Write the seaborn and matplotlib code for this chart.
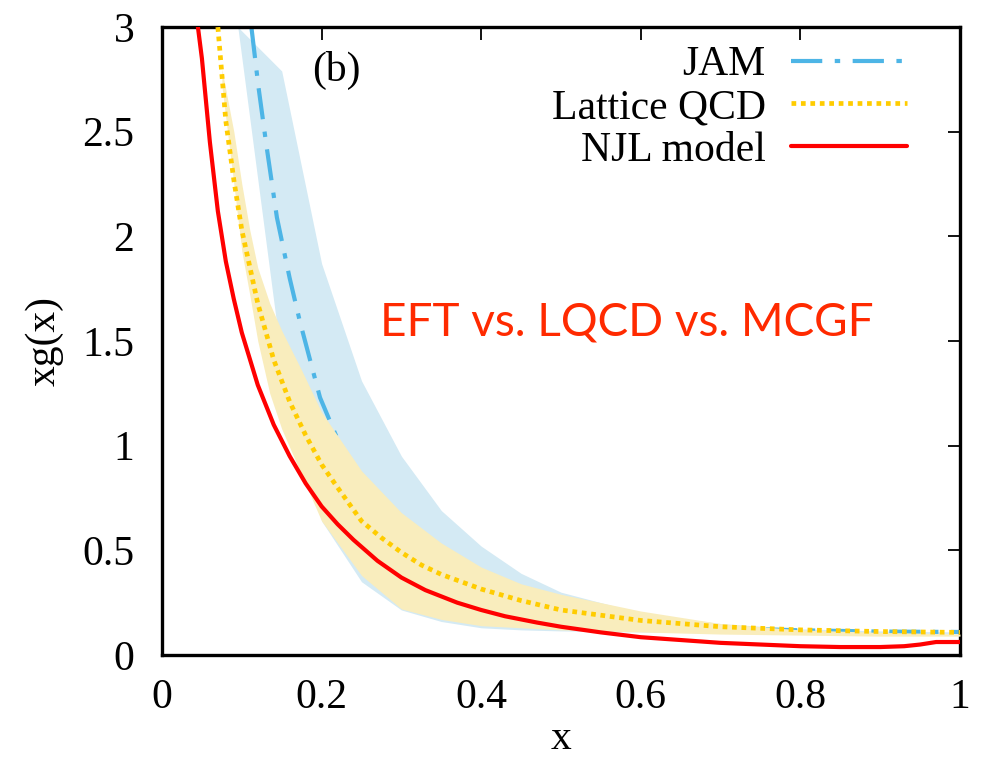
import numpy as np
import pandas as pd
import matplotlib
matplotlib.use("Agg")
import matplotlib.pyplot as plt
import seaborn as sns

# ---- data ----
# JAM uncertainty band
jam_band_x = [0.095, 0.15, 0.2, 0.25, 0.3, 0.35, 0.4, 0.45, 0.5, 0.6, 0.7, 0.8, 0.9, 1.0]
jam_band_hi = [3.0, 2.79, 1.87, 1.31, 0.95, 0.69, 0.52, 0.39, 0.30, 0.20, 0.15, 0.125, 0.115, 0.11]
jam_band_lo = [3.0, 1.40, 0.64, 0.35, 0.215, 0.16, 0.13, 0.12, 0.115, 0.11, 0.105, 0.10, 0.10, 0.10]

# JAM central curve
jam_x = [0.112, 0.121, 0.131, 0.144, 0.16, 0.173, 0.198, 0.219, 0.25, 0.3, 0.35, 0.4, 0.5, 0.6, 0.7, 0.8, 0.9, 1.0]
jam_y = [3.0, 2.71, 2.43, 2.09, 1.80, 1.59, 1.23, 1.04, 0.82, 0.56, 0.41, 0.31, 0.20, 0.15, 0.128, 0.118, 0.112, 0.11]

# Lattice QCD band
lat_band_x = [0.075, 0.09, 0.10, 0.11, 0.12, 0.135, 0.15, 0.175, 0.2, 0.25, 0.3, 0.35, 0.4, 0.45, 0.5, 0.6, 0.7, 0.8, 0.9, 1.0]
lat_band_hi = [2.80, 2.50, 2.25, 2.03, 1.85, 1.68, 1.55, 1.36, 1.16, 0.88, 0.68, 0.535, 0.42, 0.34, 0.29, 0.21, 0.15, 0.12, 0.108, 0.10]
lat_band_lo = [2.72, 2.25, 1.93, 1.72, 1.50, 1.25, 1.08, 0.86, 0.64, 0.38, 0.22, 0.17, 0.14, 0.13, 0.12, 0.11, 0.10, 0.095, 0.09, 0.09]

# Lattice QCD central curve
lat_x = [0.065, 0.07, 0.08, 0.09, 0.1, 0.12, 0.14, 0.16, 0.18, 0.2, 0.22, 0.25, 0.275, 0.3, 0.325, 0.35, 0.4, 0.45, 0.5, 0.6, 0.7, 0.8, 0.9, 1.0]
lat_y = [3.15, 3.0, 2.55, 2.27, 2.03, 1.68, 1.41, 1.21, 1.05, 0.91, 0.80, 0.64, 0.56, 0.49, 0.43, 0.385, 0.315, 0.26, 0.215, 0.165, 0.135, 0.12, 0.112, 0.108]

# NJL model
njl_x = [0.045, 0.05, 0.06, 0.07, 0.08, 0.09, 0.1, 0.12, 0.14, 0.16, 0.18, 0.2, 0.22, 0.24, 0.27, 0.3, 0.33, 0.37, 0.4, 0.43, 0.47, 0.5, 0.55, 0.6, 0.7, 0.8, 0.85, 0.9, 0.93, 0.95, 0.97, 1.0]
njl_y = [3.0, 2.85, 2.45, 2.12, 1.88, 1.70, 1.54, 1.29, 1.10, 0.95, 0.82, 0.71, 0.625, 0.55, 0.45, 0.37, 0.31, 0.25, 0.215, 0.185, 0.155, 0.135, 0.108, 0.085, 0.058, 0.042, 0.038, 0.038, 0.042, 0.05, 0.062, 0.062]

labels = ["JAM", "Lattice QCD", "NJL model"]
xticks = [0, 0.2, 0.4, 0.6, 0.8, 1]
xticklabels = ["0", "0.2", "0.4", "0.6", "0.8", "1"]
yticks = [0, 0.5, 1, 1.5, 2, 2.5, 3]
yticklabels = ["0", "0.5", "1", "1.5", "2", "2.5", "3"]

# ---- style ----
sns.set_style("white")
plt.rcParams["font.family"] = ["Liberation Serif", "DejaVu Serif"]
plt.rcParams["text.color"] = "black"
plt.rcParams["axes.labelcolor"] = "black"
plt.rcParams["xtick.color"] = "black"
plt.rcParams["ytick.color"] = "black"

fig = plt.figure(figsize=(9.84, 7.66), dpi=100)
ax = fig.add_axes([162 / 984, 111 / 766, 798 / 984, 628 / 766])

c_jam = "#4db5e6"
c_jam_band = "#d4eaf4"
c_lat = "#ffcc00"
c_lat_band = "#f9edbd"
c_njl = "#ff0000"

ax.fill_between(jam_band_x, jam_band_lo, jam_band_hi, color=c_jam_band, lw=0, zorder=1)
sns.lineplot(x=jam_x, y=jam_y, ax=ax, color=c_jam, lw=3.0, zorder=2, sort=False,
             estimator=None)
jam_line = ax.lines[-1]
jam_line.set_linestyle((0, (7.5, 3.0, 1.3, 3.0)))
jam_line.set_dash_capstyle("butt")
ax.fill_between(lat_band_x, lat_band_lo, lat_band_hi, color=c_lat_band, lw=0, zorder=3)
sns.lineplot(x=lat_x, y=lat_y, ax=ax, color=c_lat, lw=3.4, zorder=4, sort=False,
             estimator=None)
lat_line = ax.lines[-1]
lat_line.set_linestyle((0, (1.0, 1.0)))
lat_line.set_dash_capstyle("butt")
sns.lineplot(x=njl_x, y=njl_y, ax=ax, color=c_njl, lw=3.0, zorder=5, sort=False,
             estimator=None)
njl_line = ax.lines[-1]
njl_line.set_solid_joinstyle("round")

ax.set_xlim(0, 1)
ax.set_ylim(0, 3)
ax.set_xticks(xticks)
ax.set_xticklabels(xticklabels)
ax.set_yticks(yticks)
ax.set_yticklabels(yticklabels)

for s in ax.spines.values():
    s.set_linewidth(2.4)
    s.set_color("black")
    s.set_visible(True)
ax.tick_params(axis="both", which="major", direction="in", length=9, width=1.3,
               labelsize=30, top=True, right=True, color="black", labelcolor="black")
ax.tick_params(axis="x", pad=17)
ax.tick_params(axis="y", pad=20)

ax.set_xlabel("x", fontsize=30, labelpad=2)
ax.set_ylabel("xg(x)", fontsize=30, labelpad=13)

leg = ax.legend([jam_line, lat_line, njl_line], labels, loc="upper right",
                bbox_to_anchor=(0.934, 0.970), borderaxespad=0, borderpad=0,
                frameon=False, markerfirst=False, fontsize=30,
                handlelength=2.8, handletextpad=0.6, labelspacing=0.1)

ax.text(0.218, 2.79, "(b)", fontsize=30, ha="center", va="center")
ax.text(0.273, 1.59, "EFT vs. LQCD vs. MCGF", fontsize=33, color="#ff2a00",
        ha="left", va="center", family=["Lato", "DejaVu Sans"])

fig.savefig("out.png", dpi=100)
